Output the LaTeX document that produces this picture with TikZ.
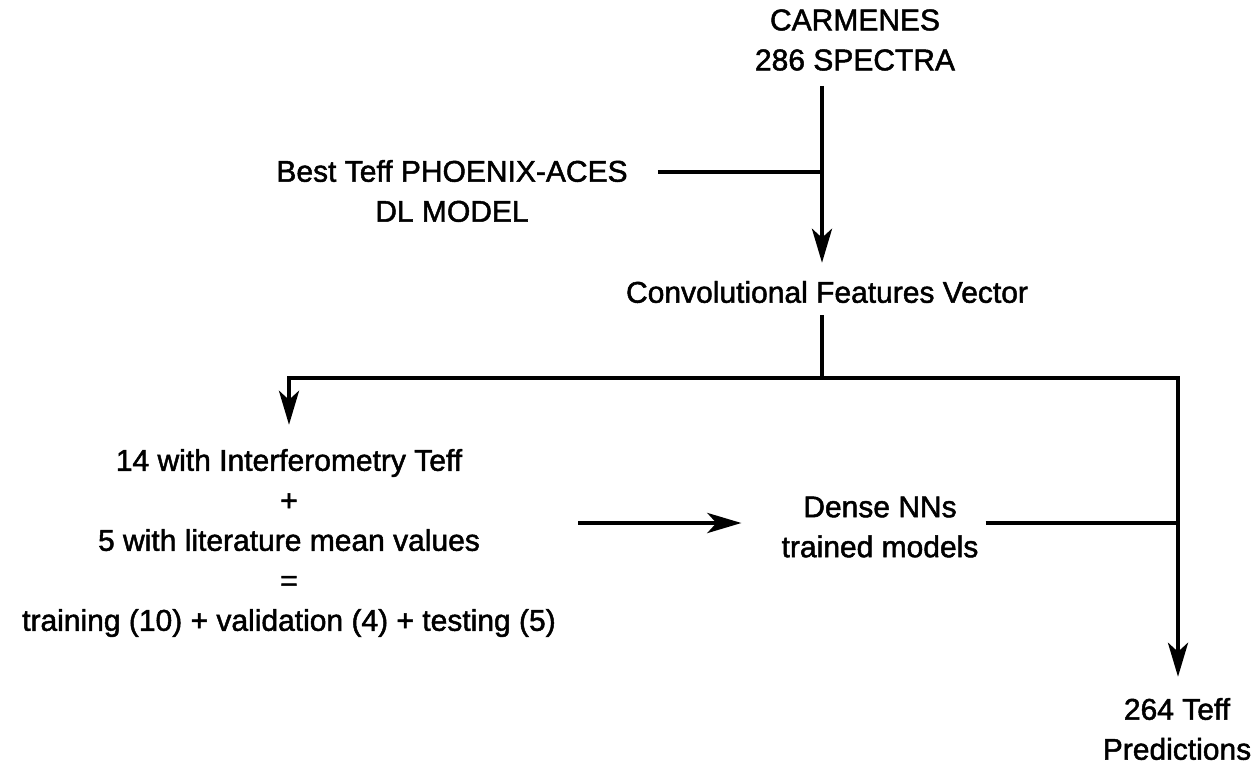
\documentclass[tikz,border=0pt]{standalone}
\usepackage{fontspec}
\setmainfont[FakeBold=1.6]{Liberation Sans}
\usetikzlibrary{positioning,arrows.meta}
\tikzset{>={Stealth[length=34pt,width=20pt,inset=9pt]}}

\begin{document}
\begin{tikzpicture}[x=1pt,y=-1pt,
  lab/.style={align=center, inner sep=0pt, font=\fontsize{30}{40}\selectfont},
  wire/.style={line width=4.5pt}]
\useasboundingbox (0,0) rectangle (1253,766);
\node[lab] (carm) at (855,40) {CARMENES \\ 286 SPECTRA};
\node[lab] (best) at (452,191) {Best Teff PHOENIX-ACES \\ DL MODEL};
\node[lab] (conv) at (827,292) {Convolutional Features Vector};
\node[lab] (train) at (289,543) {14 with Interferometry Teff \\ + \\ 5 with literature mean values \\ = \\ training (10) + validation (4) + testing (5)};
\node[lab] (dense) at (880,527) {Dense NNs \\ trained models};
\node[lab] (pred) at (1177,729) {264 Teff \\ Predictions};
\coordinate (j1) at (822,172);
\coordinate (j2) at (822,378);
\coordinate (j3) at (1178,523);
\draw[wire, ->, shorten <=15pt, shorten >=18pt] (carm.south -| j1) -- (conv.north -| j1);
\draw[wire, shorten <=30pt] (best.east |- j1) -- (j1);
\draw[wire, shorten <=12pt] (conv.south -| j2) -- (j2);
\draw[wire, ->, shorten >=24pt] (j2) -| (train.north);
\draw[wire, ->, shorten >=21pt] (j2) -| (pred.north -| j3);
\draw[wire, ->, shorten <=22pt, shorten >=40pt] (train.east |- j3) -- (dense.west |- j3);
\draw[wire, shorten <=7pt] (dense.east |- j3) -- (j3);
\end{tikzpicture}
\end{document}
